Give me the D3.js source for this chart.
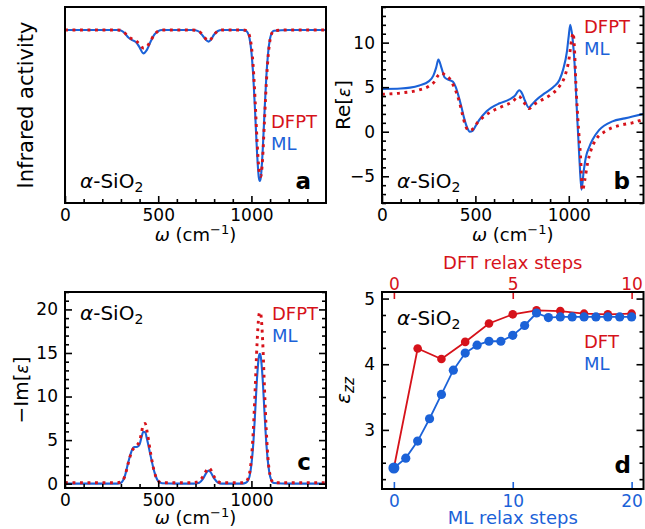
<!DOCTYPE html>
<html><head><meta charset="utf-8">
<script src="https://cdn.jsdelivr.net/npm/d3@7"></script>
<style>body{margin:0;background:#fff} text{font-family:"DejaVu Sans",sans-serif}</style>
</head><body><svg id="chart" width="645" height="529"></svg>
<script>
// ---------------- data ----------------
// panel a : infrared activity (dips, arbitrary units)
const omegaA = [0,100,200,280,300,320,340,360,380,400,420,440,460,480,500,520,600,680,700,720,740,760,770,780,800,820,840,900,950,970,980,990,1000,1010,1020,1030,1040,1045,1050,1060,1070,1080,1090,1100,1110,1120,1200,1300,1400];
const irML = [0,0,0,0,-0.003,-0.02,-0.05,-0.068,-0.08,-0.115,-0.155,-0.13,-0.075,-0.03,-0.008,0,0,0,-0.002,-0.012,-0.04,-0.07,-0.077,-0.068,-0.03,-0.007,0,0,0,-0.005,-0.018,-0.057,-0.147,-0.31,-0.55,-0.81,-0.98,-1.0,-0.98,-0.81,-0.55,-0.31,-0.147,-0.057,-0.018,-0.005,0,0,0];
const irDFPT = [0,0,0,0,-0.003,-0.02,-0.045,-0.06,-0.07,-0.095,-0.12,-0.11,-0.07,-0.03,-0.008,0,0,0,-0.002,-0.01,-0.035,-0.065,-0.072,-0.065,-0.03,-0.007,0,0,0,-0.003,-0.012,-0.04,-0.11,-0.25,-0.47,-0.73,-0.92,-0.96,-0.97,-0.85,-0.6,-0.35,-0.17,-0.065,-0.02,-0.005,0,0,0];

// panel b : Re[eps]
const omegaBml = [0,100,150,200,250,275,290,302,318,335,360,380,395,410,425,440,455,470,485,500,520,560,630,680,710,735,750,765,786,800,827,870,916,950,970,990,1000,1008,1020,1032,1045,1057,1068,1080,1092,1110,1127,1163,1234,1300,1341,1400];
const reML = [4.8,4.85,4.95,5.2,5.65,6.3,7.2,8.1,7.2,6.1,5.8,5.6,5.0,4.0,2.8,1.5,0.5,0.0,0.1,0.6,1.3,2.3,3.2,3.6,4.0,4.65,4.3,3.5,2.7,3.0,3.6,4.3,5.0,5.8,7.0,9.0,10.8,12.0,10.5,7.3,1.7,-3.1,-6.5,-4.4,-2.8,-1.7,-0.9,0.2,1.16,1.5,1.7,2.0];
const omegaBdf = [0,100,200,250,280,300,320,340,360,380,400,415,430,445,460,475,490,510,540,580,640,700,732,750,770,787,810,850,900,950,980,1000,1015,1023,1030,1038,1050,1063,1073,1085,1100,1120,1145,1200,1270,1340,1400];
const reDFPT = [4.2,4.35,4.7,5.1,5.6,6.3,6.6,6.3,6.0,5.3,4.3,3.3,2.0,0.8,0.2,0.15,0.4,1.0,1.6,2.2,2.8,3.4,4.0,3.6,3.0,2.6,3.0,3.5,4.1,5.1,6.3,8.0,10.3,11.1,9.5,5.4,1.0,-2.8,-6.6,-5.5,-3.6,-2.0,-0.9,0.1,0.7,1.0,1.4];

// panel c : -Im[eps]
const omegaC = [0,100,200,280,300,320,340,360,370,380,390,400,410,420,430,440,460,480,500,520,600,680,700,720,740,760,770,780,800,820,840,900,950,970,980,990,1000,1010,1020,1030,1040,1045,1050,1060,1070,1080,1090,1100,1110,1120,1200,1300,1400];
const imML = [0,0,0,0,0.1,0.8,2.5,3.9,4.2,4.2,4.25,4.5,5.3,5.95,5.9,5.1,3.1,1.3,0.3,0.05,0,0,0.02,0.1,0.55,1.3,1.5,1.35,0.6,0.12,0,0,0,0.1,0.3,0.85,2.2,4.6,8.2,12.1,14.6,14.9,14.6,12.1,8.2,4.6,2.2,0.85,0.27,0.07,0,0,0];
const imDFPT = [0.1,0.1,0.1,0.1,0.2,0.8,2.4,3.8,4.1,4.3,4.5,4.9,5.8,6.8,6.9,6.0,3.4,1.3,0.3,0.1,0.1,0.1,0.15,0.3,0.8,1.55,1.8,1.65,0.8,0.25,0.1,0.1,0.1,0.2,0.5,1.2,2.9,6.1,10.8,16.0,19.3,19.7,19.5,16.5,11.0,6.0,2.6,1.0,0.3,0.1,0.1,0.1,0.1];

// panel d : eps_zz vs relax steps
const mlSteps = [0,1,2,3,4,5,6,7,8,9,10,11,12,13,14,15,16,17,18,19,20];
const mlEps = [2.42,2.57,2.83,3.17,3.54,3.91,4.17,4.29,4.35,4.35,4.44,4.59,4.78,4.71,4.72,4.72,4.72,4.72,4.72,4.72,4.72];
const dftSteps = [0,1,2,3,4,5,6,7,8,9,10];
const dftEps = [2.42,4.24,4.08,4.34,4.62,4.76,4.82,4.81,4.77,4.76,4.77];

// ticks
const omegaTicks = [0,500,1000];
const omegaMinor = [100,200,300,400,600,700,800,900,1100,1200,1300];
const reTicks = [-5,0,5,10];
const reMinor = [-8,-7,-6,-4,-3,-2,-1,1,2,3,4,6,7,8,9,11,12,13,14];
const imTicks = [0,5,10,15,20];
const imMinor = [1,2,3,4,6,7,8,9,11,12,13,14,16,17,18,19,21,22];
const epsTicks = [3,4,5];
const epsMinor = [2.25,2.5,2.75,3.25,3.5,3.75,4.25,4.5,4.75];
const mlStepTicks = [0,10,20];
const dftStepTicks = [0,5,10];

// ---------------- drawing ----------------
const RED = "#d6121a", BLUE = "#1b62d8";
const svg = d3.select("#chart");
const FS_TICK = 17;

function addAxis(gen, tx, ty, color) {
  const g = svg.append("g").attr("transform", `translate(${tx},${ty})`).call(gen);
  g.select(".domain").remove();
  g.selectAll(".tick line").attr("stroke", color || "#000").attr("stroke-width", 1.6);
  g.selectAll(".tick text").attr("fill", color || "#000").attr("font-size", FS_TICK)
    .attr("font-family", "DejaVu Sans");
  return g;
}
function frame(x0, x1, y0, y1) {
  svg.append("rect").attr("x", x0).attr("y", y0).attr("width", x1 - x0).attr("height", y1 - y0)
    .attr("fill", "none").attr("stroke", "#000").attr("stroke-width", 2);
}
let clipId = 0;
function clip(x0, x1, y0, y1) {
  const id = "clip" + (clipId++);
  svg.append("clipPath").attr("id", id).append("rect").attr("x", x0).attr("y", y0).attr("width", x1 - x0).attr("height", y1 - y0);
  return "url(#" + id + ")";
}
function drawLine(xs, ys, x, y, color, dotted, cp) {
  const line = d3.line().x((d, i) => x(xs[i])).y(d => y(d)).curve(d3.curveMonotoneX);
  const p = svg.append("path").datum(ys).attr("d", line).attr("fill", "none").attr("stroke", color)
    .attr("clip-path", cp);
  if (dotted) p.attr("stroke-width", 2.9).attr("stroke-dasharray", "2.9,4.6");
  else p.attr("stroke-width", 2.1).attr("stroke-linejoin", "round");
}
function text(x, y, str, opts = {}) {
  const t = svg.append("text").attr("x", x).attr("y", y).text(str)
    .attr("font-size", opts.fs || 18).attr("fill", opts.color || "#000");
  if (opts.anchor) t.attr("text-anchor", opts.anchor);
  if (opts.weight) t.attr("font-weight", opts.weight);
  return t;
}
function sio2(x, y) {
  const t = svg.append("text").attr("x", x).attr("y", y).attr("font-size", 20).attr("fill", "#000");
  t.append("tspan").attr("font-style", "italic").text("α");
  t.append("tspan").text("-SiO");
  t.append("tspan").attr("font-size", 14).attr("dy", 4).text("2");
}
function omegaLabel(cx, y) {
  const t = svg.append("text").attr("x", cx).attr("y", y).attr("font-size", 18).attr("text-anchor", "middle");
  t.append("tspan").attr("font-style", "italic").text("ω");
  t.append("tspan").text(" (cm");
  t.append("tspan").attr("font-size", 13).attr("dy", -7).text("−1");
  t.append("tspan").attr("dy", 7).text(")");
}
function ylabel(x, cy, parts, fs) {
  const t = svg.append("text").attr("transform", `translate(${x},${cy}) rotate(-90)`)
    .attr("text-anchor", "middle").attr("font-size", fs || 20);
  parts.forEach(p => {
    const s = t.append("tspan").text(p.t);
    if (p.it) s.attr("font-style", "italic");
    if (p.fs) s.attr("font-size", p.fs);
    if (p.dy) s.attr("dy", p.dy);
  });
}

// ===== Panel a =====
{
  const x0 = 65, x1 = 326, y0 = 7, y1 = 203;
  const x = d3.scaleLinear().domain([0, 1400]).range([x0, x1]);
  const y = d3.scaleLinear().domain([-1.146, 0.152]).range([y1, y0]);
  const cp = clip(x0, x1, y0, y1);
  drawLine(omegaA, irML, x, y, BLUE, false, cp);
  drawLine(omegaA, irDFPT, x, y, RED, true, cp);
  addAxis(d3.axisBottom(x).tickValues(omegaTicks).tickSize(-7).tickPadding(6).tickFormat(d3.format("d")), 0, y1);
  addAxis(d3.axisBottom(x).tickValues(omegaMinor).tickSize(-4).tickFormat(""), 0, y1);
  frame(x0, x1, y0, y1);
  ylabel(33, (y0 + y1) / 2, [{t: "Infrared activity"}], 21);
  omegaLabel((x0 + x1) / 2, 241);
  sio2(80, 188);
  text(271, 128, "DFPT", {color: RED});
  text(271, 150, "ML", {color: BLUE});
  text(311, 189, "a", {fs: 23, weight: "bold", anchor: "end"});
}

// ===== Panel b =====
{
  const x0 = 382, x1 = 643.5, y0 = 7, y1 = 203;
  const x = d3.scaleLinear().domain([0, 1400]).range([x0, x1]);
  const y = d3.scaleLinear().domain([-8, 14]).range([y1, y0]);
  const cp = clip(x0, x1, y0, y1);
  drawLine(omegaBml, reML, x, y, BLUE, false, cp);
  drawLine(omegaBdf, reDFPT, x, y, RED, true, cp);
  addAxis(d3.axisBottom(x).tickValues(omegaTicks).tickSize(-7).tickPadding(6).tickFormat(d3.format("d")), 0, y1);
  addAxis(d3.axisBottom(x).tickValues(omegaMinor).tickSize(-4).tickFormat(""), 0, y1);
  addAxis(d3.axisLeft(y).tickValues(reTicks).tickSize(-7).tickPadding(7).tickFormat(d3.format("d")), x0, 0);
  addAxis(d3.axisLeft(y).tickValues(reMinor).tickSize(-4).tickFormat(""), x0, 0);
  addAxis(d3.axisRight(y).tickValues(reTicks).tickSize(-7).tickFormat(""), x1, 0);
  addAxis(d3.axisRight(y).tickValues(reMinor).tickSize(-4).tickFormat(""), x1, 0);
  frame(x0, x1, y0, y1);
  ylabel(350, (y0 + y1) / 2, [{t: "Re["}, {t: "ε", it: true, fs: 17}, {t: "]"}], 20);
  omegaLabel((x0 + x1) / 2, 241);
  sio2(397, 188);
  text(584, 33, "DFPT", {color: RED});
  text(584, 55, "ML", {color: BLUE});
  text(630, 189, "b", {fs: 23, weight: "bold", anchor: "end"});
}

// ===== Panel c =====
{
  const x0 = 65, x1 = 326, y0 = 292, y1 = 488;
  const x = d3.scaleLinear().domain([0, 1400]).range([x0, x1]);
  const y = d3.scaleLinear().domain([-0.5, 22]).range([y1, y0]);
  const cp = clip(x0, x1, y0, y1);
  drawLine(omegaC, imML, x, y, BLUE, false, cp);
  drawLine(omegaC, imDFPT, x, y, RED, true, cp);
  addAxis(d3.axisBottom(x).tickValues(omegaTicks).tickSize(-7).tickPadding(6).tickFormat(d3.format("d")), 0, y1);
  addAxis(d3.axisBottom(x).tickValues(omegaMinor).tickSize(-4).tickFormat(""), 0, y1);
  addAxis(d3.axisLeft(y).tickValues(imTicks).tickSize(-7).tickPadding(7).tickFormat(d3.format("d")), x0, 0);
  addAxis(d3.axisLeft(y).tickValues(imMinor).tickSize(-4).tickFormat(""), x0, 0);
  addAxis(d3.axisRight(y).tickValues(imTicks).tickSize(-7).tickFormat(""), x1, 0);
  addAxis(d3.axisRight(y).tickValues(imMinor).tickSize(-4).tickFormat(""), x1, 0);
  frame(x0, x1, y0, y1);
  ylabel(28, (y0 + y1) / 2, [{t: "−Im["}, {t: "ε", it: true, fs: 17}, {t: "]"}], 20);
  omegaLabel((x0 + x1) / 2, 524);
  sio2(80, 320);
  text(272, 320, "DFPT", {color: RED});
  text(272, 342, "ML", {color: BLUE});
  text(311, 470, "c", {fs: 23, weight: "bold", anchor: "end"});
}

// ===== Panel d =====
{
  const x0 = 382, x1 = 643.5, y0 = 292, y1 = 489;
  const x = d3.scaleLinear().domain([-1, 21]).range([x0, x1]);
  const xt = d3.scaleLinear().domain([-0.5, 10.5]).range([x0, x1]);
  const y = d3.scaleLinear().domain([2.1, 5.1]).range([y1, y0]);
  const lineML = d3.line().x((d, i) => x(mlSteps[i])).y(d => y(d));
  const lineDFT = d3.line().x((d, i) => xt(dftSteps[i])).y(d => y(d));
  svg.append("path").datum(dftEps).attr("d", lineDFT).attr("fill", "none").attr("stroke", RED).attr("stroke-width", 1.8);
  svg.append("g").selectAll("circle").data(dftEps).join("circle")
    .attr("cx", (d, i) => xt(dftSteps[i])).attr("cy", d => y(d)).attr("r", 4.3).attr("fill", RED);
  svg.append("path").datum(mlEps).attr("d", lineML).attr("fill", "none").attr("stroke", BLUE).attr("stroke-width", 1.8);
  svg.append("g").selectAll("circle").data(mlEps).join("circle")
    .attr("cx", (d, i) => x(mlSteps[i])).attr("cy", d => y(d)).attr("r", (d, i) => i === 0 ? 5.5 : 4.6).attr("fill", BLUE);

  addAxis(d3.axisBottom(x).tickValues(mlStepTicks).tickSize(-7).tickPadding(6).tickFormat(d3.format("d")), 0, y1, BLUE);
  addAxis(d3.axisTop(xt).tickValues(dftStepTicks).tickSize(-7).tickPadding(2).tickFormat(d3.format("d")), 0, y0, RED);
  addAxis(d3.axisLeft(y).tickValues(epsTicks).tickSize(-7).tickPadding(7).tickFormat(d3.format("d")), x0, 0);
  addAxis(d3.axisLeft(y).tickValues(epsMinor).tickSize(-4).tickFormat(""), x0, 0);
  addAxis(d3.axisRight(y).tickValues(epsTicks).tickSize(-7).tickFormat(""), x1, 0);
  addAxis(d3.axisRight(y).tickValues(epsMinor).tickSize(-4).tickFormat(""), x1, 0);
  frame(x0, x1, y0, y1);
  ylabel(350, (y0 + y1) / 2, [{t: "ε", it: true}, {t: "zz", it: true, fs: 15, dy: 4}], 20);
  text((x0 + x1) / 2, 524, "ML relax steps", {color: BLUE, anchor: "middle"});
  text((x0 + x1) / 2, 269, "DFT relax steps", {color: RED, anchor: "middle"});
  sio2(397, 325);
  text(584, 348, "DFT", {color: RED});
  text(584, 370, "ML", {color: BLUE});
  text(631, 473, "d", {fs: 23, weight: "bold", anchor: "end"});
}
</script></body></html>
